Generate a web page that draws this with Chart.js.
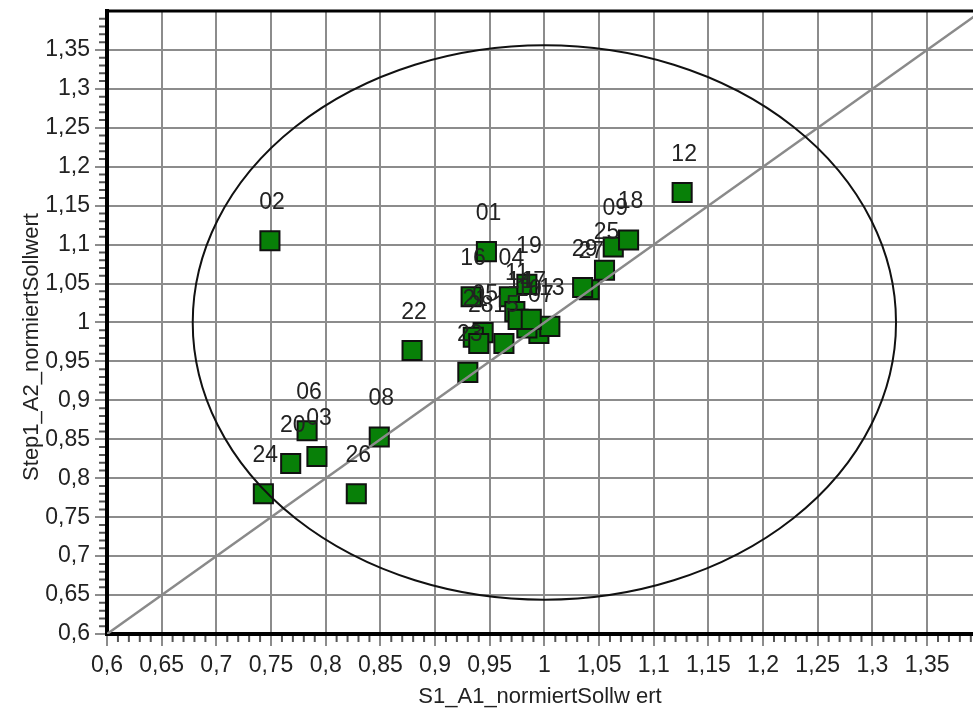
<!DOCTYPE html>
<html>
<head>
<meta charset="utf-8">
<script src="https://cdn.jsdelivr.net/npm/chart.js@4.4.1/dist/chart.umd.min.js"></script>
<style>
  html, body { margin: 0; padding: 0; background: #fff; }
</style>
</head>
<body>
<canvas id="sollwertChart" width="973" height="713"></canvas>
<script>
// Messpunkte (Bezeichnung, x = S1_A1, y = Step1_A2)
const pointLabels = ['01', '02', '03', '04', '05', '06', '07', '08', '09', '10',
                     '11', '12', '13', '14', '15', '16', '17', '18', '19', '20',
                     '21', '22', '23', '24', '25', '26', '27', '28', '29'];
const xValues = [0.947, 0.749, 0.792, 0.968, 0.944, 0.783, 0.995, 0.849, 1.063, 0.984,
                 0.973, 1.126, 1.005, 0.976, 0.963, 0.933, 0.988, 1.077, 0.984, 0.768,
                 0.935, 0.879, 0.930, 0.743, 1.055, 0.828, 1.041, 0.940, 1.035];
const yValues = [1.091, 1.105, 0.828, 1.033, 0.987, 0.861, 0.986, 0.853, 1.097, 0.993,
                 1.014, 1.167, 0.995, 1.004, 0.973, 1.033, 1.004, 1.106, 1.049, 0.819,
                 0.981, 0.964, 0.936, 0.780, 1.067, 0.780, 1.042, 0.973, 1.045];

// Achsen
const xTicks = [0.6, 0.65, 0.7, 0.75, 0.8, 0.85, 0.9, 0.95, 1, 1.05, 1.1, 1.15, 1.2, 1.25, 1.3, 1.35];
const yTicks = [0.6, 0.65, 0.7, 0.75, 0.8, 0.85, 0.9, 0.95, 1, 1.05, 1.1, 1.15, 1.2, 1.25, 1.3, 1.35];
const xRange = [0.6, 1.392];
const yRange = [0.6, 1.4];

// Winkelhalbierende und Ellipse
const diagonal = [0.6, 1.4];
const ellipseCenter = [1.0, 1.0];
const ellipseRadius = [0.3216, 0.356];

const fontFamily = '"Liberation Sans", Arial, sans-serif';
const fmt = v => String(Math.round(v * 100) / 100).replace('.', ',');

const extras = {
    id: 'extras',
    afterDatasetsDraw(chart) {
        const {ctx, chartArea: a, scales: {x, y}} = chart;
        // Ellipse
        ctx.save();
        ctx.beginPath();
        ctx.rect(a.left, a.top, a.right - a.left, a.bottom - a.top);
        ctx.clip();
        const cx = x.getPixelForValue(ellipseCenter[0]);
        const cy = y.getPixelForValue(ellipseCenter[1]);
        const rx = x.getPixelForValue(ellipseCenter[0] + ellipseRadius[0]) - cx;
        const ry = cy - y.getPixelForValue(ellipseCenter[1] + ellipseRadius[1]);
        ctx.beginPath();
        ctx.ellipse(cx, cy, rx, ry, 0, 0, Math.PI * 2);
        ctx.lineWidth = 2;
        ctx.strokeStyle = '#111';
        ctx.stroke();
        ctx.restore();

        // Punktbeschriftungen
        ctx.save();
        ctx.font = '23px ' + fontFamily;
        ctx.fillStyle = '#222';
        ctx.textAlign = 'center';
        ctx.textBaseline = 'middle';
        chart.getDatasetMeta(0).data.forEach((pt, i) => {
            ctx.fillText(pointLabels[i], pt.x + 2, pt.y - 38);
        });
        ctx.restore();
    },
    afterDraw(chart) {
        const {ctx, chartArea: a, scales: {x, y}} = chart;
        ctx.save();
        // oberer Rahmen
        ctx.strokeStyle = '#000';
        ctx.lineWidth = 3;
        ctx.beginPath();
        ctx.moveTo(a.left, a.top);
        ctx.lineTo(a.right, a.top);
        ctx.stroke();

        // Zwischenstriche (5 pro Hauptintervall)
        ctx.strokeStyle = '#555';
        ctx.lineWidth = 2;
        const minor = (ticks, max) => {
            const out = [];
            const step = ticks[1] - ticks[0];
            const all = ticks.concat([ticks[ticks.length - 1] + step]);
            for (let i = 0; i < all.length - 1; i++) {
                for (let k = 1; k < 5; k++) {
                    const v = all[i] + (all[i + 1] - all[i]) * k / 5;
                    if (v <= max) out.push(v);
                }
            }
            return out;
        };
        ctx.beginPath();
        minor(xTicks, xRange[1]).forEach(v => {
            const px = x.getPixelForValue(v);
            ctx.moveTo(px, a.bottom + 2);
            ctx.lineTo(px, a.bottom + 8);
        });
        minor(yTicks, yRange[1]).forEach(v => {
            const py = y.getPixelForValue(v);
            ctx.moveTo(a.left - 2, py);
            ctx.lineTo(a.left - 8, py);
        });
        ctx.stroke();

        // y-Achsentitel
        ctx.font = '22px ' + fontFamily;
        ctx.fillStyle = '#222';
        ctx.textAlign = 'center';
        ctx.textBaseline = 'middle';
        ctx.translate(32, 347);
        ctx.rotate(-Math.PI / 2);
        ctx.fillText('Step1_A2_normiertSollwert', 0, 0);
        ctx.restore();
    }
};

const ctx = document.getElementById('sollwertChart').getContext('2d');
new Chart(ctx, {
    type: 'scatter',
    data: {
        datasets: [{
            label: 'Sollwert',
            data: xValues.map((v, i) => ({x: v, y: yValues[i]})),
            pointStyle: 'rect',
            pointRadius: 13.5,
            pointHoverRadius: 13.5,
            backgroundColor: 'rgb(8,128,8)',
            borderColor: '#111',
            borderWidth: 2,
            order: 1
        }, {
            type: 'line',
            label: 'x = y',
            data: diagonal.map(v => ({x: v, y: v})),
            borderColor: '#8a8a8a',
            borderWidth: 2.5,
            pointRadius: 0,
            fill: false,
            order: 0
        }]
    },
    options: {
        responsive: false,
        animation: false,
        layout: { autoPadding: false, padding: { top: 11, right: 0, left: 0, bottom: 0 } },
        plugins: {
            legend: { display: false },
            tooltip: { enabled: false }
        },
        scales: {
            x: {
                type: 'linear',
                min: xRange[0],
                max: xRange[1],
                afterBuildTicks: s => { s.ticks = xTicks.map(v => ({value: v})); },
                afterFit: s => { s.height = 79; s.paddingLeft = 0; s.paddingRight = 0; },
                grid: { color: '#8c8c8c', lineWidth: 2, tickLength: 12, tickColor: '#8c8c8c', tickWidth: 2 },
                border: { color: '#000', width: 4 },
                ticks: {
                    callback: fmt,
                    maxRotation: 0,
                    autoSkip: false,
                    padding: 6,
                    color: '#222',
                    font: { size: 23, family: fontFamily }
                },
                title: {
                    display: true,
                    text: 'S1_A1_normiertSollw ert',
                    color: '#222',
                    font: { size: 22, family: fontFamily },
                    padding: { top: 0, bottom: 3 }
                }
            },
            y: {
                type: 'linear',
                min: yRange[0],
                max: yRange[1],
                afterBuildTicks: s => { s.ticks = yTicks.map(v => ({value: v})); },
                afterFit: s => { s.width = 107; s.paddingTop = 0; s.paddingBottom = 0; },
                grid: { color: '#8c8c8c', lineWidth: 2, tickLength: 12, tickColor: '#8c8c8c', tickWidth: 2 },
                border: { color: '#000', width: 4 },
                ticks: {
                    callback: fmt,
                    autoSkip: false,
                    padding: 5,
                    color: '#222',
                    font: { size: 23, family: fontFamily }
                }
            }
        }
    },
    plugins: [extras]
});
</script>
</body>
</html>
